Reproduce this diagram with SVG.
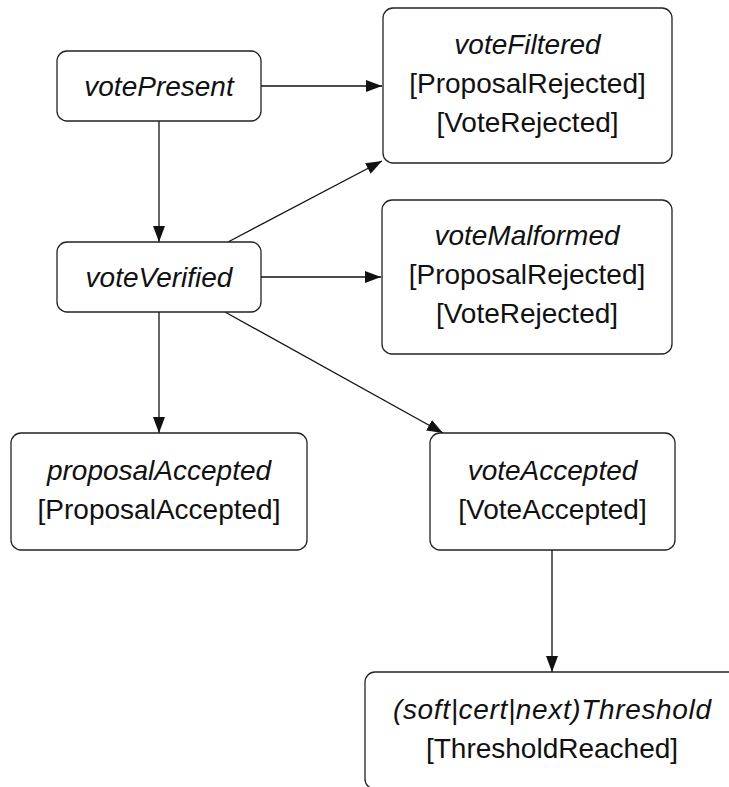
<svg xmlns="http://www.w3.org/2000/svg" width="729" height="787" viewBox="0 0 729 787">
  <style>
    .box { fill: #ffffff; stroke: #222222; stroke-width: 1.3; }
    .edge { fill: none; stroke: #111111; stroke-width: 1.3; }
    text { font-family: "Liberation Sans", Arial, sans-serif; font-size: 28px; fill: #111111; text-anchor: middle; }
    .state { font-style: italic; }
  </style>
  <defs>
    <marker id="arrow" markerUnits="userSpaceOnUse" markerWidth="16" markerHeight="12" refX="16" refY="6" orient="auto">
      <path d="M0,0 L16,6 L0,12 z" fill="#111111"/>
    </marker>
  </defs>

  <rect width="729" height="787" fill="#ffffff"/>

  <!-- transitions -->
  <g id="edges">
    <line class="edge" x1="261" y1="86" x2="382" y2="86" marker-end="url(#arrow)"/>
    <line class="edge" x1="159" y1="121" x2="159" y2="242" marker-end="url(#arrow)"/>
    <line class="edge" x1="228" y1="242" x2="382" y2="161" marker-end="url(#arrow)"/>
    <line class="edge" x1="261" y1="277" x2="381" y2="277" marker-end="url(#arrow)"/>
    <line class="edge" x1="159" y1="312" x2="159" y2="433" marker-end="url(#arrow)"/>
    <line class="edge" x1="225" y1="312" x2="443" y2="433" marker-end="url(#arrow)"/>
    <line class="edge" x1="552" y1="550" x2="552" y2="672" marker-end="url(#arrow)"/>
  </g>

  <g id="votePresent">
    <rect class="box" x="57" y="51" width="204" height="70" rx="10"/>
    <text class="state" x="159" y="96">votePresent</text>
  </g>

  <g id="voteFiltered">
    <rect class="box" x="383" y="8" width="289" height="155" rx="10"/>
    <text class="state" x="527.5" y="54">voteFiltered</text>
    <text x="527.5" y="93">[ProposalRejected]</text>
    <text x="527.5" y="132">[VoteRejected]</text>
  </g>

  <g id="voteVerified">
    <rect class="box" x="57" y="242" width="204" height="70" rx="10"/>
    <text class="state" x="159" y="287">voteVerified</text>
  </g>

  <g id="voteMalformed">
    <rect class="box" x="382" y="200" width="290" height="154" rx="10"/>
    <text class="state" x="527" y="245">voteMalformed</text>
    <text x="527" y="284">[ProposalRejected]</text>
    <text x="527" y="323">[VoteRejected]</text>
  </g>

  <g id="proposalAccepted">
    <rect class="box" x="11" y="433" width="296" height="117" rx="10"/>
    <text class="state" x="159" y="480">proposalAccepted</text>
    <text x="159" y="519">[ProposalAccepted]</text>
  </g>

  <g id="voteAccepted">
    <rect class="box" x="430" y="433" width="245" height="117" rx="10"/>
    <text class="state" x="552.5" y="480">voteAccepted</text>
    <text x="552.5" y="519">[VoteAccepted]</text>
  </g>

  <g id="threshold">
    <rect class="box" x="365" y="672" width="374" height="117" rx="10"/>
    <text class="state" x="552" y="719" textLength="318" lengthAdjust="spacing">(soft|cert|next)Threshold</text>
    <text x="552" y="758">[ThresholdReached]</text>
  </g>
</svg>
